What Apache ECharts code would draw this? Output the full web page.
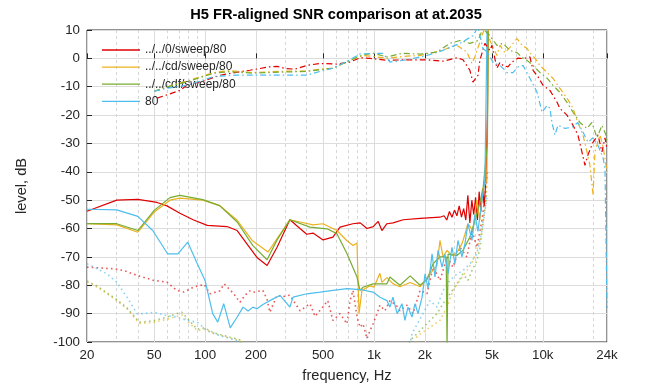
<!DOCTYPE html>
<html>
<head>
<meta charset="utf-8">
<script src="https://cdn.jsdelivr.net/npm/echarts@6/dist/echarts.min.js"></script>
<style>html,body{margin:0;padding:0;background:#fff}#c{width:672px;height:384px}</style>
</head>
<body>
<div id="c"></div>
<script>
// ---- tick values ----
const xMajorTicks = [20, 50, 100, 200, 500, 1000, 2000, 5000, 10000, 24000];
const xMinorTicks = [30, 40, 60, 70, 80, 90, 300, 400, 600, 700, 800, 900, 3000, 4000, 6000, 7000, 8000, 9000, 20000];
const seriesNames = ['../../0/sweep/80', '../../cd/sweep/80', '../../cdf/sweep/80', '80'];
const seriesColors = ['#e00000', '#edb120', '#77ac30', '#4dbeee'];

// ---- FR (dash-dot) curves: [Hz, dB] ----
const frRed = [[52,-14],[60,-12.8],[71,-11.3],[78,-9.5],[100,-7.8],[122,-6],[150,-5],[184,-4.2],[240,-3],[267,-2.8],[300,-3.6],[340,-3.8],[400,-2.5],[480,-1.8],[600,-2],[720,-1.3],[830,0.2],[950,0],[1190,-0.7],[1570,-0.5],[2060,-0.5],[2560,-1],[3100,0.2],[3370,-0.5],[3700,-4.2],[3860,-8.4],[4130,-6],[4240,-0.7],[4540,5.3],[4860,2.8],[5000,4.6],[5200,0],[5350,-3.5],[5580,-1.4],[5810,-2.5],[6220,-3],[6570,-1.3],[7140,0.1],[7640,-0.1],[8390,0.5],[8760,-4.2],[9390,-6.6],[10030,-9.5],[11020,-11.3],[12130,-15.4],[12640,-17.7],[13910,-20],[15090,-23.6],[16140,-27],[17050,-33],[17770,-37.7],[18520,-34],[19830,-29.6],[21230,-27],[22410,-33],[23350,-28],[24000,-32]];
const frOrange = [[50,-11.6],[60,-10],[78,-8],[113,-5],[140,-4.3],[190,-5],[300,-4.5],[400,-4.5],[480,-3.8],[570,-3.5],[720,-0.7],[860,1],[990,0.7],[1190,0],[1570,0.8],[1880,1],[2150,1.8],[2460,2.6],[3100,4.6],[3550,2.2],[3810,-1.8],[3960,0.5],[4240,5.7],[4420,9],[4670,12],[4860,6.3],[5350,1],[5580,4.6],[5970,2],[6390,3.9],[7040,7],[7540,4.6],[8070,3.5],[8390,2],[9000,0],[9620,-2.5],[10600,-5],[11490,-7],[12640,-10.6],[13910,-14],[15090,-17.6],[16140,-22.6],[17290,-27],[18260,-33],[19020,-37.7],[19830,-48],[20370,-33],[21800,-27],[22730,-31],[24000,-40]];
const frGreen = [[50,-11.6],[60,-10],[78,-8.3],[113,-5.2],[140,-4.7],[190,-5.2],[300,-4.8],[400,-4.6],[480,-4],[570,-3.5],[720,-0.7],[860,1.2],[990,1.8],[1190,0.5],[1480,1.8],[1880,1.5],[2360,2.2],[2820,5.3],[3230,6.3],[3700,5.3],[4130,6.3],[4420,10.5],[4860,8],[5350,4.6],[5810,5.3],[6390,2.8],[7040,2],[7540,0.3],[8070,-0.7],[8760,-2.5],[9620,-5],[10600,-7],[11490,-9.5],[12640,-12],[13910,-15.5],[15090,-19],[16590,-22.6],[18260,-24.7],[19550,-22.6],[20940,-28],[22410,-23.6],[23680,-27],[24000,-30]];
const frCyan = [[50,-11.6],[60,-10.5],[78,-9.5],[113,-6.4],[155,-5.9],[240,-5.9],[400,-5.9],[480,-4.6],[570,-3.5],[720,-0.5],[830,1.6],[1130,1.8],[1244,-1.3],[1570,-0.5],[2060,1],[2560,2.8],[3230,5.3],[3860,8],[4130,11],[4420,3.5],[4730,2],[5070,-1.4],[5580,-2.5],[6140,-5],[6660,-5],[7140,-3],[7640,-2.5],[8390,-7],[9260,-12],[9890,-19],[10600,-16.6],[11020,-17.6],[11330,-22.6],[11800,-27],[12300,-23.6],[13530,-24.7],[14880,-24.3],[16140,-22.6],[17290,-26],[18520,-29.6],[19830,-28],[21230,-30.7],[22730,-35],[23350,-38.8],[24000,-88]];

// ---- solid curves: [Hz, dB] ----
const snRed = [[20,-53.9],[30,-50],[40,-49.7],[52,-50.8],[59.5,-52],[71,-54.6],[85,-56.9],[103,-58.9],[135,-59.3],[155,-60.7],[177,-65.4],[203,-70.2],[233,-73],[267,-66.6],[318,-56.9],[365,-60],[400,-62],[436,-61.6],[500,-64],[572,-63],[630,-59.5],[750,-58.3],[830,-58],[910,-60],[990,-59.3],[1060,-57.5],[1086,-57.7],[1115,-60.7],[1194,-58.3],[1300,-58],[1490,-56.9],[1880,-56.4],[2460,-56],[2600,-55.5],[2700,-57],[2800,-54],[2900,-56],[3000,-53.5],[3100,-55.5],[3200,-52],[3300,-56],[3400,-53],[3500,-57],[3600,-48.3],[3700,-58],[3800,-50],[3900,-55],[4000,-49],[4100,-57],[4200,-47],[4300,-54],[4400,-46],[4500,-52],[4600,-43],[4700,-20],[4760,20]];
const snOrange = [[20,-58.3],[30,-58.7],[40,-61.3],[50,-54.2],[62,-50],[71,-49.3],[97,-50],[122,-51.9],[155,-57.1],[190,-64.2],[236,-68.3],[267,-63.5],[318,-56.9],[365,-57.7],[436,-58.7],[500,-58.3],[604,-60.7],[690,-64.2],[752,-66],[794,-65.1],[816,-90],[850,-81.8],[950,-80.2],[1000,-80.7],[1086,-75.8],[1115,-79],[1194,-77.3],[1300,-79.5],[1426,-80.5],[1640,-79],[1880,-80.5],[2150,-76],[2365,-73],[2461,-64.2],[2567,-70],[2710,-67.7],[2900,-69.5],[3100,-68.5],[3320,-65.4],[3460,-62],[3600,-58.3],[3860,-60.7],[4070,-50],[4240,-57],[4420,-46],[4670,-43],[4760,20]];
const snGreen = [[20,-58.3],[30,-58.3],[40,-60.7],[50,-53.6],[62,-49.1],[71,-48.3],[97,-49.8],[122,-51.9],[155,-57.7],[192,-66],[233,-71],[267,-64],[318,-56.9],[418,-59.5],[527,-60.1],[604,-61.8],[693,-68.9],[794,-77.1],[827,-81.8],[862,-80.7],[987,-79.5],[1194,-79.5],[1244,-77.1],[1426,-80],[1640,-76.7],[1876,-80],[2063,-78],[2240,-72.4],[2461,-70],[2680,-70],[2710,-102],[2750,-69],[2820,-68.9],[3100,-69.5],[3366,-67.7],[3700,-63],[4074,-54.8],[4420,-46.6],[4700,-30],[4760,20]];
const snCyan = [[20,-53.2],[30,-53.4],[40,-55.7],[49,-60.7],[60,-68.9],[69,-68.9],[79,-64.8],[90,-72.4],[100,-78.3],[111,-90],[119,-93],[129,-86.5],[141,-95],[155,-91.2],[168,-87.7],[180,-89.1],[192,-87.7],[203,-88.3],[220,-86.8],[253,-84.8],[278,-83.6],[318,-87.7],[332,-84.2],[401,-83],[480,-82.4],[572,-81.8],[693,-81.2],[827,-81.5],[988,-82.4],[1086,-84.2],[1194,-85.4],[1244,-87.7],[1296,-84.2],[1372,-90],[1466,-86.5],[1526,-92.4],[1591,-87.7],[1681,-91.2],[1751,-86.5],[1825,-90],[1928,-84.2],[2008,-76],[2092,-81],[2209,-68.9],[2300,-77.1],[2397,-67.7],[2532,-73.6],[2635,-69],[2746,-76],[2899,-66.6],[3018,-72.4],[3145,-64.2],[3320,-70],[3458,-65.4],[3604,-58.3],[3807,-64.2],[3963,-55],[4130,-61],[4360,-50],[4542,-43],[4700,20]];

// ---- dotted curves: [Hz, dB] ----
const nzRed = [[20,-73.6],[28.9,-74.2],[33,-74.8],[39.5,-76.5],[50,-78.3],[59.5,-78.9],[68,-81.8],[75,-82.4],[86,-80.6],[99,-79.7],[107,-83],[122,-82],[130,-79.5],[148,-83],[161,-86],[172,-83.6],[184,-82],[192,-82.5],[220,-81.8],[233,-85],[242,-89.5],[267,-83.5],[289,-84],[318,-83.5],[365,-89],[418,-86.5],[448,-91],[500,-87.5],[533,-85.4],[572,-92.4],[630,-90],[693,-93.6],[722,-85.4],[752,-81.8],[794,-91],[827,-94.8],[862,-93.6],[910,-98.8],[948,-96],[988,-93.6],[1043,-90],[1086,-87],[1162,-89],[1244,-85.4],[1354,-87],[1426,-89],[1569,-87],[1704,-90],[1876,-81.8],[2063,-83],[2240,-73.6],[2461,-78.3],[2710,-70],[2938,-73.6],[3230,-66.6],[3554,-70],[3807,-60.7],[4074,-66.6],[4360,-57.1],[4542,-49],[4700,-40]];
const nzOrange = [[20,-78.9],[23,-80.6],[26.3,-83],[30,-85.4],[34.5,-88.3],[39.5,-92.4],[41,-93.5],[50,-93],[59.5,-92],[68,-91],[73,-90.5],[78,-92.5],[90,-96],[99,-95.5],[113,-97],[135,-98.3],[161,-99.5],[175,-104],[1700,-104],[1800,-98],[2148,-94.8],[2461,-92.4],[2710,-87.7],[2938,-81.8],[3230,-78.3],[3554,-74.8],[3859,-71.3],[4242,-64.2],[4542,-52.5],[4700,-42]];
const nzGreen = [[20,-78.5],[23,-80.3],[26.3,-82.7],[30,-85],[34.5,-88],[39.5,-92],[41,-93],[50,-92.5],[59.5,-91.2],[68,-90],[73,-89.5],[78,-91.5],[90,-95.5],[99,-95],[113,-96.8],[135,-98],[161,-99.3],[175,-104],[1550,-104],[1635,-99.5],[1876,-96],[2148,-92.4],[2365,-90],[2567,-86.5],[2820,-83],[3102,-79.5],[3366,-76],[3604,-78.3],[3807,-74.8],[4074,-71.3],[4242,-67],[4419,-58.8],[4669,-47]];
const nzCyan = [[20,-72.4],[23,-74.2],[26.3,-76],[30,-78.9],[34.5,-84.2],[39.5,-90],[43.5,-90],[50,-89.5],[59.5,-90.7],[68,-91.2],[78,-92.4],[90,-93],[103,-96],[122,-97.7],[141,-98.8],[161,-100],[180,-104],[1600,-104],[1681,-97],[1954,-90],[2148,-85.4],[2365,-87.7],[2567,-81.8],[2820,-78.3],[3102,-76],[3366,-74.8],[3703,-72.4],[4074,-68.9],[4360,-60.7],[4669,-49]];

const frSets = [frRed, frOrange, frGreen, frCyan];
const snSets = [snRed, snOrange, snGreen, snCyan];
const nzSets = [nzRed, nzOrange, nzGreen, nzCyan];

const series = [];
nzSets.forEach((d, i) => series.push({
  name: 'noise ' + i, type: 'line', data: d, xAxisIndex: 0, showSymbol: false, symbol: 'none',
  silent: true, z: 2,
  lineStyle: { color: seriesColors[i], width: 1.6, type: [1.6, 3.2], opacity: 0.65 }
}));
snSets.forEach((d, i) => series.push({
  name: seriesNames[i], type: 'line', data: d, xAxisIndex: 0, showSymbol: false, symbol: 'none',
  silent: true, z: 3, itemStyle: { color: seriesColors[i] },
  lineStyle: { color: seriesColors[i], width: 1.2 }
}));
frSets.forEach((d, i) => series.push({
  name: 'fr ' + i, type: 'line', data: d, xAxisIndex: 0, showSymbol: false, symbol: 'none',
  silent: true, z: 4,
  lineStyle: { color: seriesColors[i], width: 1.2, type: [6, 3, 1.5, 3] }
}));

const fmt = v => v >= 1000 ? (v / 1000) + 'k' : String(v);
const font = '"Liberation Sans", Arial, sans-serif';

const option = {
  animation: false,
  backgroundColor: '#fff',
  title: {
    text: 'H5 FR-aligned SNR comparison at at.2035',
    left: 'center', top: 7, padding: [0, 0, 0, 22],
    textStyle: { fontFamily: font, fontSize: 14.67, fontWeight: 'bold', color: '#000' }
  },
  grid: { left: 87, right: 65, top: 30, bottom: 42, show: true, borderColor: '#262626', borderWidth: 1, backgroundColor: '#fff', containLabel: false, outerBoundsMode: 'none' },
  legend: {
    data: seriesNames, orient: 'vertical', left: 102, top: 44, padding: 0,
    icon: 'rect', itemWidth: 38, itemHeight: 1.3, itemGap: 5.1,
    textStyle: { fontFamily: font, fontSize: 12, color: '#262626' }
  },
  xAxis: [
    {
      type: 'log', logBase: 10, min: 20, max: 24000,
      name: 'frequency, Hz', nameLocation: 'middle', nameGap: 26,
      nameTextStyle: { fontFamily: font, fontSize: 14.67, color: '#262626' },
      axisLine: { show: false },
      axisTick: { show: true, inside: true, length: 5, customValues: xMajorTicks, lineStyle: { color: '#262626' } },
      axisLabel: { customValues: xMajorTicks, formatter: fmt, fontFamily: font, fontSize: 13.33, color: '#262626', margin: 7 },
      splitLine: { show: true, lineStyle: { color: '#dcdcdc', width: 1 } },
      minorTick: { show: false }
    },
    {
      type: 'log', logBase: 10, min: 20, max: 24000, gridIndex: 0, position: 'bottom',
      axisLine: { show: false },
      axisTick: { show: false, customValues: xMinorTicks },
      axisLabel: { show: false, customValues: xMinorTicks },
      splitLine: { show: true, lineStyle: { color: '#d6d6d6', width: 1, type: [3, 3] } }
    }
  ],
  yAxis: {
    type: 'value', min: -100, max: 10, interval: 10,
    name: 'level, dB', nameLocation: 'middle', nameGap: 58,
    nameTextStyle: { fontFamily: font, fontSize: 14.67, color: '#262626' },
    axisLine: { show: false },
    axisTick: { show: true, inside: true, length: 5, lineStyle: { color: '#262626' } },
    axisLabel: { fontFamily: font, fontSize: 13.33, color: '#262626', margin: 7 },
    splitLine: { show: true, lineStyle: { color: '#dcdcdc', width: 1 } }
  },
  series: series
};

const chart = echarts.init(document.getElementById('c'), null, { renderer: 'canvas' });
chart.setOption(option);
</script>
</body>
</html>
